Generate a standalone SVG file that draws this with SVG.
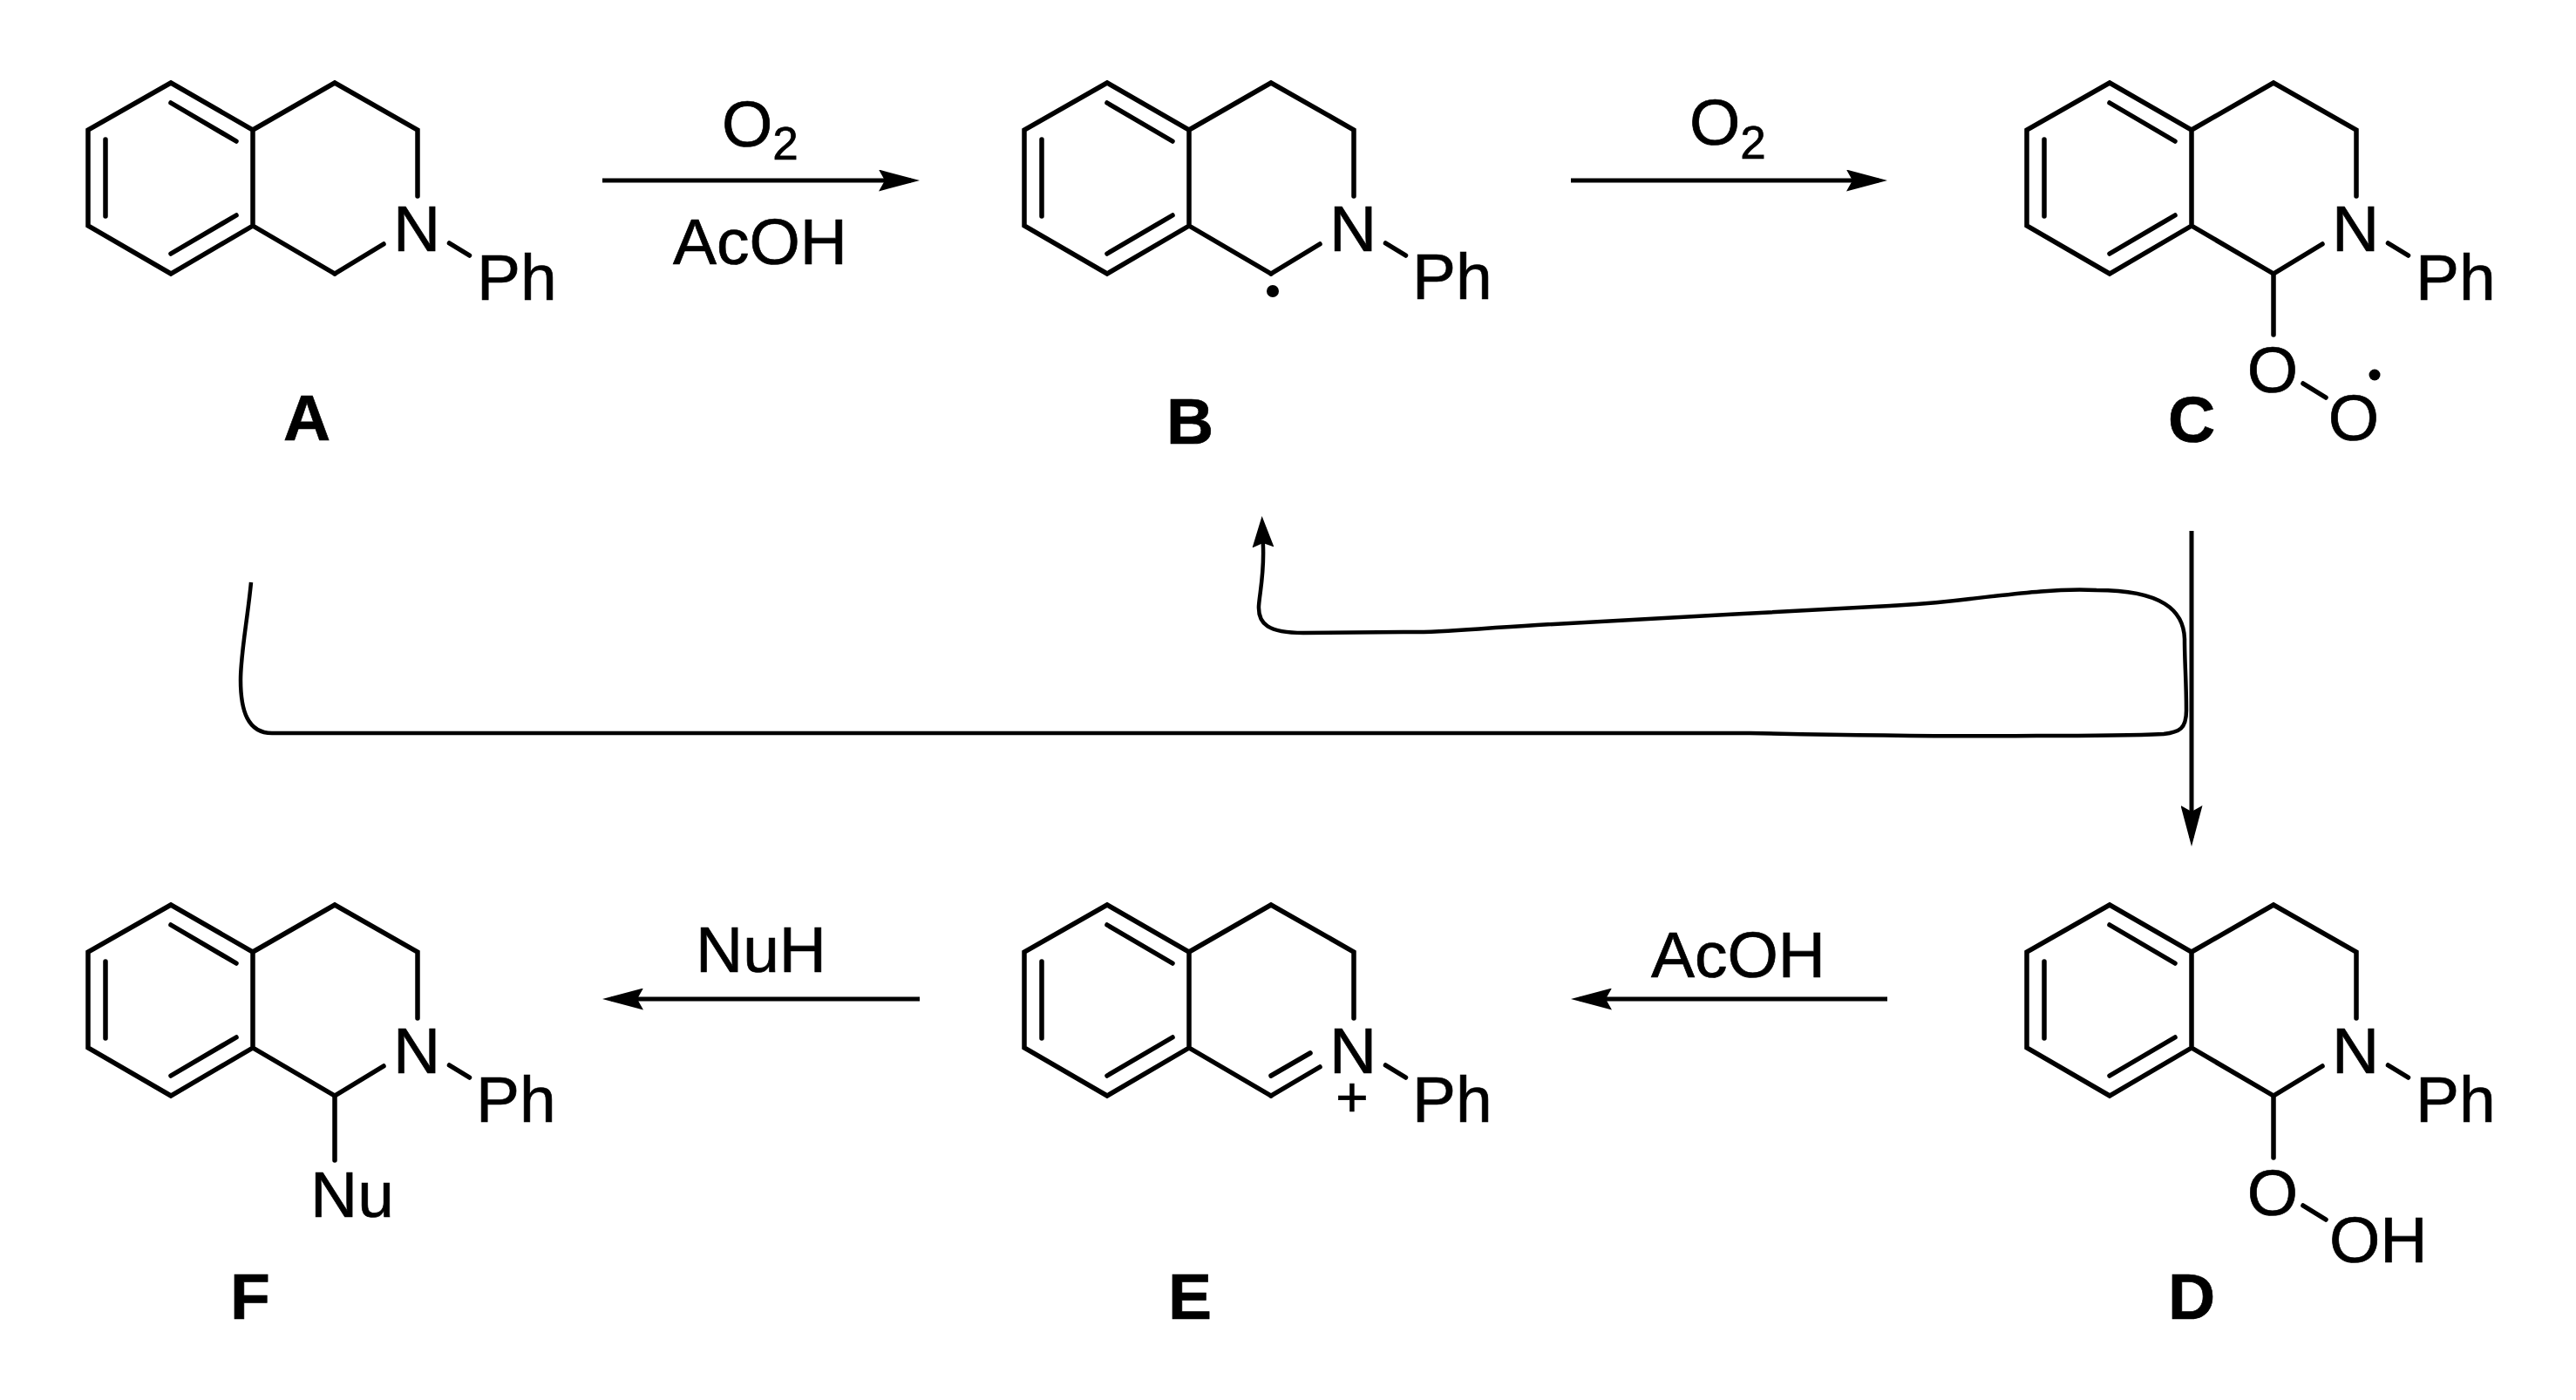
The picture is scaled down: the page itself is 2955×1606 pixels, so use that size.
<svg xmlns="http://www.w3.org/2000/svg" width="2955" height="1606" viewBox="0 0 2955 1606">
<defs>
<marker id="ah" viewBox="0 0 47 25" refX="37" refY="12.5" markerWidth="47" markerHeight="25" markerUnits="userSpaceOnUse" orient="auto"><path d="M0 0L47 12.5L0 25L7 12.5Z" fill="#000"/></marker>
<marker id="ahs" viewBox="0 0 36 25" refX="26" refY="12.5" markerWidth="36" markerHeight="25" markerUnits="userSpaceOnUse" orient="auto"><path d="M0 0L36 12.5L0 25L5 12.5Z" fill="#000"/></marker>
<path id="core" d="M196 95L290 149L290 259L196 314L101 259L101 149ZM196 118L271 162M121 160L121 248M271 247L196 291M290 149L384 95L479 149L479 225M290 259L384 314"/>
</defs>
<style>
.b{fill:none;stroke:#000;stroke-width:5.500;stroke-linecap:round;stroke-linejoin:miter}
.c{fill:none;stroke:#000;stroke-width:5}
text{font-family:"Liberation Sans",Arial,sans-serif;font-size:75px;fill:#000;stroke:#000;stroke-width:.7}
.l{font-weight:bold;text-anchor:middle}
.m{text-anchor:middle}
.s{font-size:53px}
</style>
<rect width="2955" height="1606" fill="#fff"/>
<g id="connectors">
<path class="c" d="M691 207H1045" marker-end="url(#ah)"/>
<path class="c" d="M1802 207H2155" marker-end="url(#ah)"/>
<path class="c" d="M2514 609V961" marker-end="url(#ah)"/>
<path class="c" d="M2165 1146H1812" marker-end="url(#ah)"/>
<path class="c" d="M1055 1146H701" marker-end="url(#ah)"/>
<path class="c" style="stroke-width:4.500" d="M288 668C284 710 276 750 276 780C276 815 284 841 312 841H2007C2100 843 2250 845 2336 844C2400 844 2460 843 2482 842C2500 840 2508 836 2508 815C2508 780 2506 760 2506 733C2505 700 2480 677 2405 677C2360 675 2320 680 2260 687C2220 692 2200 693 2168 695C2050 702 1850 711 1763 717C1680 722 1650 726 1610 725L1495 726C1455 726 1443 716 1444 695C1445 680 1450 660 1449 628L1448 602" marker-end="url(#ahs)"/>
</g>
<g id="A"><use href="#core" class="b"/><path class="b" d="M384 314L440 280M515.500 279L538.500 293"/><text x="451" y="288">N</text><text x="547" y="344">Ph</text><text class="l" x="352" y="505">A</text></g>
<g id="B"><use href="#core" class="b" x="1074"/><path class="b" d="M1458 314L1514 280M1589.500 279L1612.500 293"/><text x="1525" y="288">N</text><text x="1620" y="343">Ph</text><circle cx="1460" cy="334" r="7"/><text class="l" x="1365" y="509">B</text></g>
<g id="C"><use href="#core" class="b" x="2224"/><path class="b" d="M2608 314L2664 280M2739.500 279L2762.500 293M2608 314V384M2642 440L2668 456"/><text x="2675" y="288">N</text><text x="2771" y="344">Ph</text><text class="m" x="2607" y="450">O</text><text class="m" x="2700" y="505">O</text><circle cx="2724" cy="430" r="6.500"/><text class="l" x="2514" y="507">C</text></g>
<g id="D" transform="translate(0 943)"><use href="#core" class="b" x="2224"/><path class="b" d="M2608 314L2664 280M2739.500 279L2762.500 293M2608 314V385M2642 440L2668 456"/><text x="2675" y="288">N</text><text x="2771" y="344">Ph</text><text class="m" x="2607" y="451">O</text><text x="2672" y="505">OH</text><text class="l" x="2514" y="570">D</text></g>
<g id="E" transform="translate(0 943)"><use href="#core" class="b" x="1074"/><path class="b" d="M1458 314L1514 281M1458 291L1503 265M1589.500 279L1612.500 293"/><text x="1525" y="288">N</text><text x="1620" y="344">Ph</text><text x="1551" y="338" class="m" style="font-size:64px">+</text><text class="l" x="1365" y="570">E</text></g>
<g id="F" transform="translate(0 943)"><use href="#core" class="b"/><path class="b" d="M384 314L440 280M515.500 279L538.500 293M384 314V388"/><text x="451" y="288">N</text><text x="546" y="344">Ph</text><text x="356" y="453">Nu</text><text class="l" x="287" y="570">F</text></g>
<g id="reagents">
<text x="828" y="168">O<tspan dy="15" class="s">2</tspan></text>
<text x="772" y="303">AcOH</text>
<text x="1938" y="166">O<tspan dy="16" class="s">2</tspan></text>
<text x="1894" y="1121">AcOH</text>
<text x="798" y="1115">NuH</text>
</g>
</svg>
